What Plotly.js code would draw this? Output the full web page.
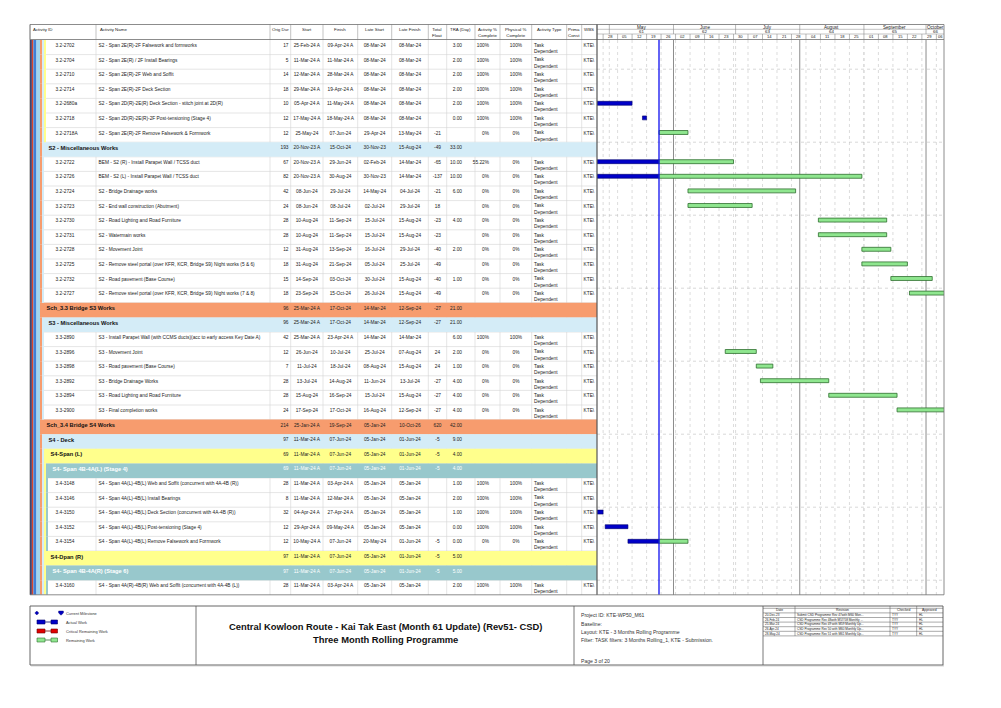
<!DOCTYPE html>
<html><head><meta charset="utf-8">
<script src="https://cdn.plot.ly/plotly-3.0.1.min.js"></script>
<style>html,body{margin:0;padding:0;background:#fff}#chart{width:1001px;height:708px}</style>
</head><body><div id="chart"></div>
<script>
// ---------------- DATA ----------------
const activityIds = ['3.2-2702','3.2-2704','3.2-2710','3.2-2714','3.2-2680a','3.2-2718','3.2-2718A',
 'S2 - Miscellaneous Works','3.2-2722','3.2-2726','3.2-2724','3.2-2723','3.2-2730','3.2-2731','3.2-2728','3.2-2725','3.2-2732','3.2-2727',
 'Sch_3.3 Bridge S3 Works','S3 - Miscellaneous Works','3.3-2890','3.3-2896','3.3-2898','3.3-2892','3.3-2894','3.3-2900',
 'Sch_3.4 Bridge S4 Works','S4 - Deck','S4-Span (L)','S4- Span 4B-4A(L) (Stage 4)','3.4-3148','3.4-3146','3.4-3150','3.4-3152','3.4-3154',
 'S4-Dpan (R)','S4- Span 4B-4A(R) (Stage 6)','3.4-3160'];
const rowKinds = ['task','task','task','task','task','task','task',
 'misc','task','task','task','task','task','task','task','task','task','task',
 'sch','misc','task','task','task','task','task','task',
 'sch','misc','span','stage','task','task','task','task','task',
 'span','stage','task'];
const activityNames = ['S2 - Span 2E(R)-2F Falsework and formworks','S2 - Span 2E(R) / 2F Install Bearings','S2 - Span 2E(R)-2F Web and Soffit','S2 - Span 2E(R)-2F Deck Section',
 'S2 - Span 2D(R)-2E(R) Deck Section - stitch joint at 2D(R)','S2 - Span 2D(R)-2E(R)-2F Post-tensioning (Stage 4)','S2 - Span 2E(R)-2F Remove Falsework & Formwork',
 '','BEM - S2 (R) - Install Parapet Wall / TCSS duct','BEM - S2 (L) - Install Parapet Wall / TCSS duct','S2 - Bridge Drainage works','S2 - End wall construction (Abutment)',
 'S2 - Road Lighting and Road Furniture','S2 - Watermain works','S2 - Movement Joint','S2 - Remove steel portal (over KFR, KCR, Bridge S9) Night works (5 & 6)',
 'S2 - Road pavement (Base Course)','S2 - Remove steel portal (over KFR, KCR, Bridge S9) Night works (7 & 8)',
 '','','S3 - Install Parapet Wall (with CCMS ducts)(acc to early access Key Date A)','S3 - Movement Joint','S3 - Road pavement (Base Course)','S3 - Bridge Drainage Works',
 'S3 - Road Lighting and Road Furniture','S3 - Final completion works',
 '','','','','S4 - Span 4A(L)-4B(L) Web and Soffit (concurrent with 4A-4B (R))','S4 - Span 4A(L)-4B(L) Install Bearings',
 'S4 - Span 4A(L)-4B(L) Deck Section (concurrent with 4A-4B (R))','S4 - Span 4A(L)-4B(L) Post-tensioning (Stage 4)','S4 - Span 4A(L)-4B(L) Remove Falsework and Formwork',
 '','','S4 - Span 4A(R)-4B(R) Web and Soffit (concurrent with 4A-4B (L))'];
const origDur = ['17','5','14','18','10','12','12','193','67','82','42','24','28','28','12','18','15','18','96','96','42','12','7','28','28','24','214','97','69','69','28','8','32','12','12','97','97','28'];
const startDates = ['25-Feb-24 A','11-Mar-24 A','12-Mar-24 A','29-Mar-24 A','05-Apr-24 A','17-May-24 A','25-May-24',
 '20-Nov-23 A','20-Nov-23 A','20-Nov-23 A','08-Jun-24','08-Jun-24','10-Aug-24','10-Aug-24','31-Aug-24','31-Aug-24','14-Sep-24','23-Sep-24',
 '25-Mar-24 A','25-Mar-24 A','25-Mar-24 A','26-Jun-24','11-Jul-24','13-Jul-24','15-Aug-24','17-Sep-24',
 '25-Jan-24 A','11-Mar-24 A','11-Mar-24 A','11-Mar-24 A','11-Mar-24 A','11-Mar-24 A','04-Apr-24 A','29-Apr-24 A','10-May-24 A',
 '11-Mar-24 A','11-Mar-24 A','11-Mar-24 A'];
const finishDates = ['09-Apr-24 A','11-Mar-24 A','28-Mar-24 A','19-Apr-24 A','11-May-24 A','18-May-24 A','07-Jun-24',
 '15-Oct-24','29-Jun-24','30-Aug-24','29-Jul-24','08-Jul-24','11-Sep-24','11-Sep-24','13-Sep-24','21-Sep-24','03-Oct-24','15-Oct-24',
 '17-Oct-24','17-Oct-24','23-Apr-24 A','10-Jul-24','18-Jul-24','14-Aug-24','16-Sep-24','17-Oct-24',
 '19-Sep-24','07-Jun-24','07-Jun-24','07-Jun-24','03-Apr-24 A','12-Mar-24 A','27-Apr-24 A','09-May-24 A','07-Jun-24',
 '07-Jun-24','07-Jun-24','03-Apr-24 A'];
const lateStarts = ['08-Mar-24','08-Mar-24','08-Mar-24','08-Mar-24','08-Mar-24','08-Mar-24','29-Apr-24',
 '30-Nov-23','02-Feb-24','30-Nov-23','14-May-24','02-Jul-24','15-Jul-24','15-Jul-24','16-Jul-24','05-Jul-24','30-Jul-24','26-Jul-24',
 '14-Mar-24','14-Mar-24','14-Mar-24','25-Jul-24','08-Aug-24','11-Jun-24','15-Jul-24','16-Aug-24',
 '05-Jan-24','05-Jan-24','05-Jan-24','05-Jan-24','05-Jan-24','05-Jan-24','05-Jan-24','05-Jan-24','20-May-24',
 '05-Jan-24','05-Jan-24','05-Jan-24'];
const lateFinishes = ['08-Mar-24','08-Mar-24','08-Mar-24','08-Mar-24','08-Mar-24','08-Mar-24','13-May-24',
 '15-Aug-24','14-Mar-24','14-Mar-24','04-Jul-24','29-Jul-24','15-Aug-24','15-Aug-24','29-Jul-24','25-Jul-24','15-Aug-24','15-Aug-24',
 '12-Sep-24','12-Sep-24','14-Mar-24','07-Aug-24','15-Aug-24','13-Jul-24','15-Aug-24','12-Sep-24',
 '10-Oct-26','01-Jun-24','01-Jun-24','01-Jun-24','05-Jan-24','05-Jan-24','05-Jan-24','05-Jan-24','01-Jun-24',
 '01-Jun-24','01-Jun-24','05-Jan-24'];
const totalFloat = ['','','','','','','-21','-49','-65','-137','-21','18','-23','-23','-40','-49','-40','-49','-27','-27','','24','24','-27','-27','-27','620','-5','-5','-5','','','','','-5','-5','-5',''];
const traDays = ['3.00','2.00','2.00','2.00','2.00','0.00','','33.00','10.00','10.00','6.00','','4.00','','2.00','','1.00','','21.00','21.00','6.00','2.00','1.00','4.00','4.00','4.00','42.00','9.00','4.00','4.00','1.00','2.00','1.00','0.00','0.00','5.00','5.00','2.00'];
const activityPct = ['100%','100%','100%','100%','100%','100%','0%','','55.22%','0%','0%','0%','0%','0%','0%','0%','0%','0%','','','100%','0%','0%','0%','0%','0%','','','','','100%','100%','100%','100%','0%','','','100%'];
const physicalPct = ['100%','100%','100%','100%','100%','100%','0%','','0%','0%','0%','0%','0%','0%','0%','0%','0%','0%','','','100%','0%','0%','0%','0%','0%','','','','','100%','100%','100%','100%','0%','','','100%'];
const activityTypes = rowKinds.map(k => k === 'task' ? 'Task Dependent' : '');
const wbsCodes = rowKinds.map(k => k === 'task' ? 'KTE\\' : '');
const dataDate = '25-May-24';

const headerLabels = ['Activity ID','Activity Name','Orig Dur','Start','Finish','Late Start','Late Finish','Total<br>Float','TRA (Day)','Activity %<br>Complete','Physical %<br>Complete','Activity Type','Prima<br>Const','WBS'];
const monthLabels = ['May','June','July','August','September','October'];
const monthNumbers = ['61','62','63','64','65','66'];
const monthStarts = ['2024-05-01','2024-06-01','2024-07-01','2024-08-01','2024-09-01','2024-10-01'];
const weekLabels = ['28','05','12','19','26','02','09','16','23','30','07','14','21','28','04','11','18','25','01','08','15','22','29','06'];
const firstWeekStart = '2024-04-28';

const legendLabels = ['Current Milestone','Actual Work','Critical Remaining Work','Remaining Work'];
const titleLines = ['Central Kowloon Route - Kai Tak East (Month 61 Update) (Rev51- CSD)','Three Month Rolling Programme'];
const infoLines = ['Project ID: KTE-WP50_M61','Baseline:','Layout: KTE - 3 Months Rolling Programme','Filter: TASK filters: 3 Months Rolling_1, KTE - Submission.'];
const pageLabel = 'Page 3 of 20';
const revisionHeader = ['Date','Revision','Checked','Approved'];
const revisionDates = ['20-Dec-23','26-Feb-24','25-Mar-24','26-Apr-24','28-May-24'];
const revisionTexts = ['Submit CSD Programme Rev 47with M60 Mon...','CSD Programme Rev 48with M57/58 Monthly ...','CSD Programme Rev 49 with M59 Monthly Up...','CSD Programme Rev 50 with M60 Monthly Up...','CSD Programme Rev 51 with M61 Monthly Up...'];
const revisionChecked = ['TYY','TYY','TYY','TYY','TYY'];
const revisionApproved = ['HL','HL','HL','HL','HL'];

// ---------------- LAYOUT CONSTANTS ----------------
const W = 1001, H = 708;
const px = v => v / W;
const py = v => 1 - v / H;
const FONT = 'Liberation Sans, Arial, sans-serif';
const colEdges = [30, 96, 270, 290.7, 323, 357.7, 391.7, 428.3, 446.7, 475, 500, 531.7, 566.7, 581.7, 597];
const GANTT_R = 944, HEAD_T = 24.5, HEAD_B = 39.5, ROW_T = 40, ROW_H = 14.6;
const N = activityIds.length;
const ROW_B = ROW_T + N * ROW_H;
const GANTT_START = '2024-04-25 01:12', GANTT_END = '2024-10-09 16:19';
const kindColor = {sch:'#F79C6E', misc:'#D4ECF7', span:'#FFFF8C', stage:'#98C8CC'};
const kindLevel = {sch:0, misc:1, span:2, stage:3};

const MON = {Jan:0,Feb:1,Mar:2,Apr:3,May:4,Jun:5,Jul:6,Aug:7,Sep:8,Oct:9,Nov:10,Dec:11};
const DAY = 86400000;
const pad = n => (n < 10 ? '0' : '') + n;
function parseP6(s){ const m = s.trim().match(/^(\d{2})-(\w{3})-(\d{2})/); return Date.UTC(2000 + (+m[3]), MON[m[2]], +m[1]); }
function isoToMs(s){ const p = s.split(/[- :]/).map(Number); return Date.UTC(p[0], p[1]-1, p[2], p[3]||0, p[4]||0); }
function fmt(ms){ const d = new Date(ms); return d.getUTCFullYear()+'-'+pad(d.getUTCMonth()+1)+'-'+pad(d.getUTCDate())+' '+pad(d.getUTCHours())+':'+pad(d.getUTCMinutes()); }
const isActual = s => /\sA$/.test(s);

// ---------------- HIERARCHY ----------------
let stack = ['sch','misc','span'];
const rowStart = [], rowAnc = [];
rowKinds.forEach((k, i) => {
  if (k === 'task') { rowAnc.push(stack.slice()); rowStart.push(40 + 2*stack.length); }
  else { const L = kindLevel[k]; stack = stack.slice(0, L); rowAnc.push(stack.slice()); rowStart.push(40 + 2*L); stack.push(k); }
});

const traces = [];
const gi = rowKinds.map((k,i)=>i).filter(i => rowKinds[i] !== 'task');
traces.push({type:'bar', orientation:'h', xaxis:'x', yaxis:'y', y: gi, base: gi.map(i=>rowStart[i]), x: gi.map(i=>597-rowStart[i]),
  width: 1, marker:{color: gi.map(i=>kindColor[rowKinds[i]]), line:{width:0}}, hoverinfo:'skip', showlegend:false});
['sch','misc','span','stage'].forEach(kind => {
  const ys = [], bs = [];
  rowAnc.forEach((anc, i) => anc.forEach((a, lvl) => { if (a === kind) { ys.push(i); bs.push(40 + 2*lvl); } }));
  traces.push({type:'bar', orientation:'h', xaxis:'x', yaxis:'y', y: ys, base: bs, x: ys.map(()=>2), width: 1,
    marker:{color: kindColor[kind], line:{width:0}}, hoverinfo:'skip', showlegend:false});
});

// ---------------- TABLE TEXT ----------------
const ti = rowKinds.map((k,i)=>i).filter(i => rowKinds[i] === 'task');
const TXT = 4.8;
function colText(values, x, pos, rows, dy, opts){
  opts = opts || {};
  traces.push({type:'scatter', mode:'text', xaxis:'x', yaxis:'y', cliponaxis:false,
    x: rows.map(()=>x), y: rows.map(i=>i+dy), text: rows.map(i=>values[i]), textposition: pos,
    textfont:{family: FONT, size: opts.size || TXT, color: rows.map(i => rowKinds[i]==='stage' ? '#ffffff' : '#222222')},
    hoverinfo:'skip', showlegend:false});
}
colText(activityIds, 55.5, 'middle right', ti, -0.1);
colText(activityNames, 98.5, 'middle right', ti, -0.1);
traces.push({type:'scatter', mode:'text', xaxis:'x', yaxis:'y', cliponaxis:false,
  x: gi.map(i=>rowStart[i]+6.5), y: gi.map(i=>i-0.08), text: gi.map(i=>'<b>'+activityIds[i]+'</b>'), textposition:'middle right',
  textfont:{family: FONT, size: 5.7, color: gi.map(i => rowKinds[i]==='stage' ? '#ffffff' : '#111111')}, hoverinfo:'skip', showlegend:false});
const allRows = rowKinds.map((k,i)=>i);
const mid = c => (colEdges[c] + colEdges[c+1]) / 2;
colText(origDur, 288.5, 'middle left', allRows, -0.1);
colText(startDates, mid(3), 'middle center', allRows, -0.1);
colText(finishDates, mid(4), 'middle center', allRows, -0.1);
colText(lateStarts, mid(5), 'middle center', allRows, -0.1);
colText(lateFinishes, mid(6), 'middle center', allRows, -0.1);
colText(totalFloat, mid(7), 'middle center', allRows, -0.1);
colText(traDays, 462, 'middle left', allRows, -0.1);
colText(activityPct, 489, 'middle left', allRows, -0.1);
colText(physicalPct, 516, 'middle center', allRows, -0.1);
colText(activityTypes.map(t => t.replace(' ', '<br>')), 534, 'middle right', ti, 0.1);
colText(wbsCodes, 583.5, 'middle right', ti, -0.1);

// ---------------- GANTT BARS ----------------
const dd = parseP6(dataDate);
const act = {y:[], base:[], x:[]}, rem = {y:[], base:[], x:[]};
ti.forEach(i => {
  const s = parseP6(startDates[i]), f = parseP6(finishDates[i]) + DAY;
  const add = (o, a, b) => { o.y.push(i); o.base.push(fmt(a)); o.x.push(b - a); };
  if (isActual(finishDates[i])) add(act, s, f);
  else if (isActual(startDates[i])) { add(act, s, dd); add(rem, dd, f); }
  else add(rem, Math.max(s, dd), f);
});
traces.push({type:'bar', orientation:'h', xaxis:'x2', yaxis:'y', y: act.y, base: act.base, x: act.x, width: 0.27, offset: -0.3,
  marker:{color:'#0000C8', line:{color:'#00006A', width:0.6}}, hoverinfo:'skip', showlegend:false});
traces.push({type:'bar', orientation:'h', xaxis:'x2', yaxis:'y', y: rem.y, base: rem.base, x: rem.x, width: 0.27, offset: -0.3,
  marker:{color:'#8FE68F', line:{color:'#2F6F2F', width:0.8}}, hoverinfo:'skip', showlegend:false});

// ---------------- SHAPES & ANNOTATIONS ----------------
const shapes = [], annotations = [];
const lineP = (x0,y0,x1,y1,color,width,dash,layer) => shapes.push({type:'line', xref:'paper', yref:'paper', x0:px(x0), y0:py(y0), x1:px(x1), y1:py(y1), line:{color, width, dash: dash||'solid'}, layer: layer||'above'});
const rectP = (x0,y0,x1,y1,fill,lc,lw,layer) => shapes.push({type:'rect', xref:'paper', yref:'paper', x0:px(x0), y0:py(y0), x1:px(x1), y1:py(y1), fillcolor:fill, line:{color:lc||fill, width:lw||0}, layer: layer||'above'});
const txt = (x, y, text, o) => { o = o||{}; annotations.push({xref: o.xref||'paper', yref:'paper', x: o.xref ? x : px(x), y: py(y), text, showarrow:false,
  xanchor: o.xa||'left', yanchor: o.ya||'middle', align: o.align||'left', font:{family: FONT, size: o.size||4.6, color: o.color||'#222'}, borderpad:0}); };

[['#1D2A6E',30,31.8],['#D8462C',31.8,33.4],['#3F7FD6',33.4,36.5],['#A3D5EE',36.5,40]].forEach(b => rectP(b[1], ROW_T, b[2], ROW_B, b[0], null, 0, 'below'));
for (let r = 1; r < N; r++) { const y = ROW_T + r*ROW_H; lineP(40, y, 597, y, '#D4D4D4', 0.6, 'solid', 'below'); }
colEdges.slice(1, -1).forEach(x => lineP(x, ROW_T, x, ROW_B, '#D4D4D4', 0.6, 'solid', 'below'));
colEdges.forEach(x => lineP(x, HEAD_T, x, HEAD_B, '#9A9A9A', 0.6));
headerLabels.forEach((h, c) => {
  if (c < 2) txt(colEdges[c] + (c===0 ? 1.5 : 2.5), HEAD_T + 1, h, {ya:'top', size:4.4});
  else txt(mid(c), HEAD_T + 1, h, {xa:'center', ya:'top', align:'center', size:4.4});
});
const gs = isoToMs(GANTT_START), ge = isoToMs(GANTT_END);
const T1 = 29.3, T2 = 34;
lineP(597, T1, GANTT_R, T1, '#9A9A9A', 0.6);
lineP(597, T2, GANTT_R, T2, '#9A9A9A', 0.6);
const ms = monthStarts.map(isoToMs);
ms.forEach(m => shapes.push({type:'line', xref:'x2', yref:'paper', x0: fmt(m), x1: fmt(m), y0: py(HEAD_T), y1: py(T2), line:{color:'#8A8A8A', width:0.6}}));
ms.forEach((m, k) => {
  const e = Math.min(k+1 < ms.length ? ms[k+1] : ge, ge);
  const c = fmt((m + e) / 2);
  txt(c, 27, monthLabels[k], {xref:'x2', xa:'center', size:4.6});
  txt(c, 31.7, monthNumbers[k], {xref:'x2', xa:'center', size:4.4});
});
const w0 = isoToMs(firstWeekStart + ' 00:00');
weekLabels.forEach((lab, k) => {
  const s = w0 + k*7*DAY, e = Math.min(s + 7*DAY, ge);
  shapes.push({type:'line', xref:'x2', yref:'paper', x0: fmt(s), x1: fmt(s), y0: py(T2), y1: py(HEAD_B), line:{color:'#8A8A8A', width:0.6}});
  txt(fmt((s + e) / 2), 36.8, lab, {xref:'x2', xa:'center', size:4.1});
  shapes.push({type:'line', xref:'x2', yref:'paper', x0: fmt(s), x1: fmt(s), y0: py(ROW_T), y1: py(ROW_B), line:{color:'#C4C4C4', width:0.6, dash:'dot'}, layer:'below'});
});
ms.forEach((m, k) => {
  const solid = (k % 2 === 1);
  shapes.push({type:'line', xref:'x2', yref:'paper', x0: fmt(m), x1: fmt(m), y0: py(ROW_T), y1: py(ROW_B),
    line: solid ? {color:'#8C8C8C', width:1} : {color:'#C4C4C4', width:0.6, dash:'dot'}, layer:'below'});
});
for (let r = 2; r < N; r += 5) { const y = ROW_T + r*ROW_H; lineP(597, y, GANTT_R, y, '#BDBDBD', 0.6, 'dot', 'below'); }
shapes.push({type:'line', xref:'x2', yref:'paper', x0: fmt(dd), x1: fmt(dd), y0: py(HEAD_B), y1: py(ROW_B), line:{color:'#1010F0', width:1.3}});
lineP(30, HEAD_T, GANTT_R, HEAD_T, '#6E6E6E', 0.8);
lineP(30, HEAD_B, GANTT_R, HEAD_B, '#6E6E6E', 0.8);
lineP(30, ROW_B, GANTT_R, ROW_B, '#6E6E6E', 0.8);
lineP(30, HEAD_T, 30, ROW_B, '#6E6E6E', 0.8);
lineP(GANTT_R, HEAD_T, GANTT_R, ROW_B, '#6E6E6E', 0.8);
lineP(597, HEAD_T, 597, ROW_B, '#555555', 1.2);

// ---------------- FOOTER ----------------
const FT = 606, FB = 665;
rectP(30, FT, 943, FB, 'rgba(0,0,0,0)', '#555555', 0.9);
lineP(196, FT, 196, FB, '#555555', 0.8);
lineP(574, FT, 574, FB, '#555555', 0.8);
lineP(763, FT, 763, FB, '#555555', 0.8);
lineP(31, FB + 0.8, 944, FB + 0.8, '#AAAAAA', 0.8);
const LY = [613, 622, 631, 640];
const pathPx = pts => 'M' + pts.map(p => px(p[0]) + ',' + py(p[1])).join('L') + 'Z';
shapes.push({type:'path', xref:'paper', yref:'paper', path: pathPx([[34.8,LY[0]],[36.8,LY[0]-2],[38.8,LY[0]],[36.8,LY[0]+2]]), fillcolor:'#0000C0', line:{color:'#00006A', width:0.4}});
shapes.push({type:'path', xref:'paper', yref:'paper', path: pathPx([[58.6,LY[0]-2],[63.4,LY[0]-2],[63.4,LY[0]],[61,LY[0]+2.2],[58.6,LY[0]]]), fillcolor:'#0000C0', line:{color:'#00006A', width:0.4}});
[['#0000C8','#00006A'],['#E00000','#700000'],['#8FE68F','#2F6F2F']].forEach((c, k) => {
  const y = LY[k+1];
  rectP(37, y-2, 45, y+2, c[0], c[1], 0.6);
  lineP(45, y, 51, y, c[1], 0.8);
  rectP(51, y-2, 57.5, y+2, c[0], c[1], 0.6);
});
legendLabels.forEach((l, k) => txt(64.5, LY[k], l, {size:3.9, color:'#333'}));
txt(385, 626.5, '<b>' + titleLines[0] + '</b>', {xa:'center', size:9.4, color:'#111'});
txt(385, 639, '<b>' + titleLines[1] + '</b>', {xa:'center', size:9.4, color:'#111'});
[615, 623.7, 632, 640].forEach((y, k) => txt(580, y, infoLines[k], {size:5.1, color:'#333'}));
txt(580, 660.5, pageLabel, {size:5.1, color:'#333'});
const RX = [763, 795, 890, 916.7, 943];
const RY0 = 608.3, RH = 4.6;
for (let r = 0; r <= 6; r++) { const y = RY0 + r*RH; lineP(763, y, 943, y, '#555555', 0.5); }
RX.slice(1, -1).forEach(x => lineP(x, FT, x, RY0 + 6*RH, '#555555', 0.5));
revisionHeader.forEach((h, c) => txt((RX[c]+RX[c+1])/2, FT + 4.3, h, {xa:'center', size:3.4, color:'#222'}));
revisionDates.forEach((d, r) => {
  const y = RY0 + RH*(r+1.5);
  txt(RX[0]+1, y, d, {size:3.1, color:'#222'});
  txt(RX[1]+1, y, revisionTexts[r], {size:3.1, color:'#222'});
  txt(RX[2]+1, y, revisionChecked[r], {size:3.1, color:'#222'});
  txt(RX[3]+1, y, revisionApproved[r], {size:3.1, color:'#222'});
});

const layout = {
  width: W, height: H, margin:{l:0, r:0, t:0, b:0}, paper_bgcolor:'#ffffff', plot_bgcolor:'rgba(0,0,0,0)',
  barmode:'overlay', showlegend:false, font:{family: FONT},
  xaxis:{domain:[px(30), px(597)], range:[30, 597], visible:false, fixedrange:true},
  xaxis2:{domain:[px(597), px(GANTT_R)], range:[GANTT_START, GANTT_END], type:'date', visible:false, fixedrange:true, anchor:'y'},
  yaxis:{domain:[py(ROW_B), py(ROW_T)], range:[N - 0.5, -0.5], visible:false, fixedrange:true},
  shapes, annotations
};
Plotly.newPlot('chart', traces, layout, {staticPlot:true, displayModeBar:false});
</script>
</body></html>
